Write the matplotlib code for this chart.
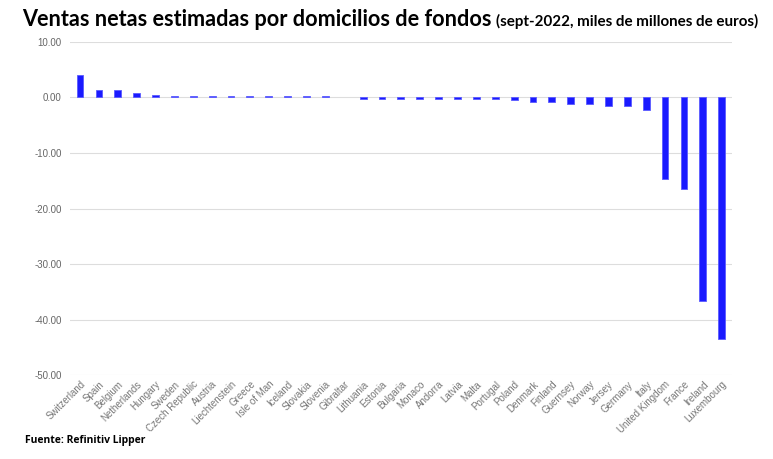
import matplotlib
matplotlib.use('Agg')
import matplotlib.pyplot as plt

# Datos (miles de millones de euros, sept-2022)
paises = ['Switzerland', 'Spain', 'Belgium', 'Netherlands', 'Hungary', 'Sweden',
          'Czech Republic', 'Austria', 'Liechtenstein', 'Greece', 'Isle of Man',
          'Iceland', 'Slovakia', 'Slovenia', 'Gibraltar', 'Lithuania', 'Estonia',
          'Bulgaria', 'Monaco', 'Andorra', 'Latvia', 'Malta', 'Portugal', 'Poland',
          'Denmark', 'Finland', 'Guernsey', 'Norway', 'Jersey', 'Germany', 'Italy',
          'United Kingdom', 'France', 'Ireland', 'Luxembourg']
ventas = [4.05, 1.3, 1.3, 0.85, 0.5, 0.3, 0.3, 0.2, 0.2, 0.2, 0.2,
          0.2, 0.2, 0.2, 0.0, -0.2, -0.2, -0.2, -0.2, -0.2,
          -0.2, -0.2, -0.2, -0.5, -0.75, -0.85, -1.1, -1.2, -1.45, -1.5, -2.2,
          -14.75, -16.5, -36.6, -43.5]
yticks = [10, 0, -10, -20, -30, -40, -50]

fig = plt.figure(figsize=(7.73, 4.59), dpi=100)
ax = fig.add_axes([0.0906, 0.183, 0.856, 0.7255])

x = list(range(len(paises)))
bordes = [0.6 if v != 0 else 0 for v in ventas]
ax.bar(x, ventas, width=0.36, color='#1a1aff', edgecolor='#5a5aff',
       linewidth=bordes, zorder=3)

ax.set_ylim(-50, 10)
ax.set_xlim(-0.53, len(paises) - 0.47)
ax.set_yticks(yticks)
ax.set_yticklabels(['%.2f' % v for v in yticks], fontsize=7, color='#666666',
                   family='Liberation Sans')
ax.set_xticks(x)
ax.set_xticklabels(paises, rotation=45, ha='right', rotation_mode='anchor',
                   fontsize=7, color='#777777', family='Liberation Sans')
ax.tick_params(length=0, pad=6)
ax.tick_params(axis='x', pad=3)
ax.grid(axis='y', color='#dddddd', linewidth=0.8, zorder=0)
for s in ax.spines.values():
    s.set_visible(False)

# Titulo en dos partes, ajustado al ancho del original
t1 = fig.text(22 / 773, 1 - 26 / 459, 'Ventas netas estimadas por domicilios de fondos',
              fontsize=16, fontweight='bold', family='Lato', va='baseline')
fig.canvas.draw()
bb = t1.get_window_extent()
t1.set_fontsize(16 * 470 / bb.width)
fig.canvas.draw()
bb = t1.get_window_extent()
t2 = fig.text(bb.x1 / 773 + 0.006, 1 - 26 / 459, '(sept-2022, miles de millones de euros)',
              fontsize=10, fontweight='bold', family='Lato', va='baseline')
fig.canvas.draw()
bb2 = t2.get_window_extent()
t2.set_fontsize(10 * 264 / bb2.width)

fig.text(25 / 773, 1 - 443 / 459, 'Fuente: Refinitiv Lipper', fontsize=7.5,
         fontweight='bold', family='Open Sans', va='baseline')

fig.savefig('out.png', dpi=100)
